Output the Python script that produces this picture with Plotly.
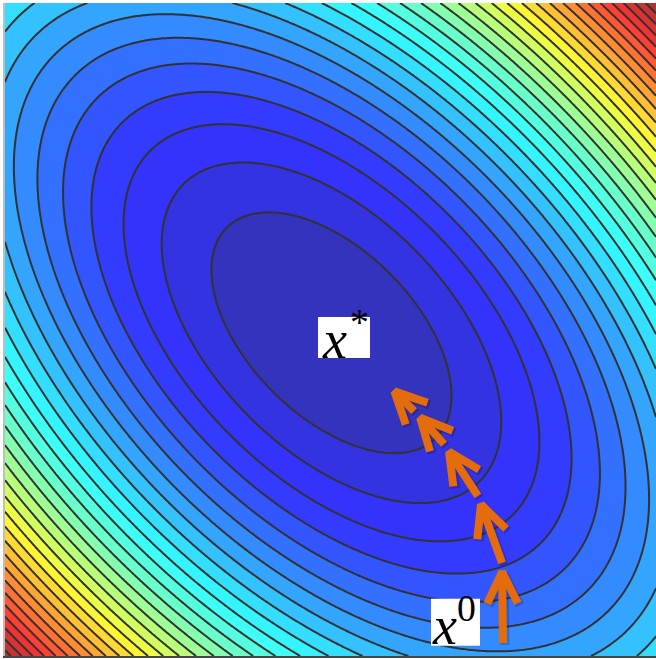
import numpy as np
import plotly.graph_objects as go

# ---- data ----
centre = [0.003, -0.01]        # minimiser x* (data units)
semi_major = 0.455             # radius of level-1 ellipse along the long axis
semi_minor = 0.255             # radius of level-1 ellipse along the short axis
level_start, level_end, level_step = 1, 60, 1

# colour of each filled band, read as a position on the jet map
band_index = [0, 1, 2, 3, 4, 7, 9, 13, 17, 20, 24, 28, 31]
band_jet = [0.045, 0.09, 0.12, 0.135, 0.167, 0.265, 0.335, 0.44, 0.57, 0.67, 0.80, 0.92, 1.0]

# gradient-descent iterates x^0 ... x^5
iter_x = [0.530, 0.527, 0.453, 0.349, 0.257, 0.177]
iter_y = [-0.960, -0.715, -0.510, -0.351, -0.250, -0.170]

label_star_text = "<i>x</i><sup>\u200a*</sup>"
label_zero_text = "<i>x</i><sup>0</sup>"
label_star_pos = [0.0415, -0.0245]
label_zero_pos = [0.384, -0.897]

# ---- surface ----
gx = np.linspace(-1, 1, 401)
gy = np.linspace(-1, 1, 401)
X, Y = np.meshgrid(gx, gy)
U = ((X - centre[0]) + (Y - centre[1])) / np.sqrt(2)
V = ((X - centre[0]) - (Y - centre[1])) / np.sqrt(2)
Z = (V / semi_major) ** 2 + (U / semi_minor) ** 2

# MATLAB jet, washed with 20% white
jet_t = [0.0, 0.125, 0.375, 0.625, 0.875, 1.0]
jet_r = [0, 0, 0, 1, 1, .5]
jet_g = [0, 0, 1, 1, 0, 0]
jet_b = [.5, 1, 1, 0, 0, 0]
def jet_wash(t):
    t = min(max(t, 0.0), 1.0)
    rgb = [np.interp(t, jet_t, ch) for ch in (jet_r, jet_g, jet_b)]
    return "rgb(%d,%d,%d)" % tuple(round((0.8 * v + 0.2) * 255) for v in rgb)

n_lv = int(round((level_end - level_start) / level_step)) + 1
colorscale = [[k / n_lv, jet_wash(np.interp(k, band_index, band_jet))] for k in range(n_lv + 1)]

fig = go.Figure()
fig.add_trace(go.Contour(
    x=gx, y=gy, z=Z,
    colorscale=colorscale, showscale=False,
    contours=dict(start=level_start, end=level_end, size=level_step, coloring="fill"),
    line=dict(color="rgb(50,50,50)", width=2, smoothing=0),
    hoverinfo="skip",
))

# ---- arrows (built from the iterates) ----
SX, SY = 325.5, 326.5   # px per data unit
wing_px, half_ang, miter_px = 35.0, np.deg2rad(26), 9.0
ax_, ay_ = [], []
for i in range(len(iter_x) - 1):
    tx, ty = iter_x[i] * SX, iter_y[i] * SY
    hx, hy = iter_x[i + 1] * SX, iter_y[i + 1] * SY
    d = np.array([hx - tx, hy - ty]); d /= np.linalg.norm(d)
    vx, vy = hx - miter_px * d[0], hy - miter_px * d[1]
    back = -d
    wings = []
    for s in (+1, -1):
        c, sn = np.cos(s * half_ang), np.sin(s * half_ang)
        w = np.array([c * back[0] - sn * back[1], sn * back[0] + c * back[1]])
        wings.append((vx + wing_px * w[0], vy + wing_px * w[1]))
    pts = [(tx, ty), (vx, vy), None, wings[0], (vx, vy), wings[1], None]
    for p in pts:
        if p is None:
            ax_.append(None); ay_.append(None)
        else:
            ax_.append(p[0] / SX); ay_.append(p[1] / SY)

sh = [None if v is None else v + 2.0 / SX for v in ax_]
shy = [None if v is None else v - 2.0 / SY for v in ay_]
fig.add_trace(go.Scatter(x=sh, y=shy, mode="lines",
                         line=dict(color="rgba(0,0,0,0.18)", width=9),
                         hoverinfo="skip", showlegend=False))
fig.add_trace(go.Scatter(x=ax_, y=ay_, mode="lines",
                         line=dict(color="rgb(228,108,12)", width=8),
                         hoverinfo="skip", showlegend=False))

# ---- labels: white boxes + text ----
def add_label(pos, text, w_px, h_px, dx, dy):
    hw, hh = w_px / 2 / SX, h_px / 2 / SY
    fig.add_shape(type="rect", x0=pos[0] - hw, x1=pos[0] + hw,
                  y0=pos[1] - hh, y1=pos[1] + hh,
                  fillcolor="white", line=dict(width=0), layer="above")
    fig.add_annotation(x=pos[0], y=pos[1], text=text, showarrow=False,
                       xanchor="center", yanchor="middle", xshift=dx, yshift=dy,
                       font=dict(family="Liberation Serif", size=54, color="black"))

add_label(label_star_pos, label_star_text, 52, 41, 1, 2)
add_label(label_zero_pos, label_zero_text, 49, 47, -1, 1)

fig.update_layout(
    width=656, height=659,
    margin=dict(l=5, r=0, t=3, b=3),
    paper_bgcolor="white", plot_bgcolor="white",
    showlegend=False,
    xaxis=dict(range=[-1, 1], showgrid=False, zeroline=False, showticklabels=False,
               ticks="", showline=True, linecolor="rgb(70,70,70)", linewidth=2),
    yaxis=dict(range=[-1, 1], showgrid=False, zeroline=False, showticklabels=False,
               ticks="", showline=True, linecolor="rgb(190,190,190)", linewidth=2),
)
fig.write_html("out.html")
